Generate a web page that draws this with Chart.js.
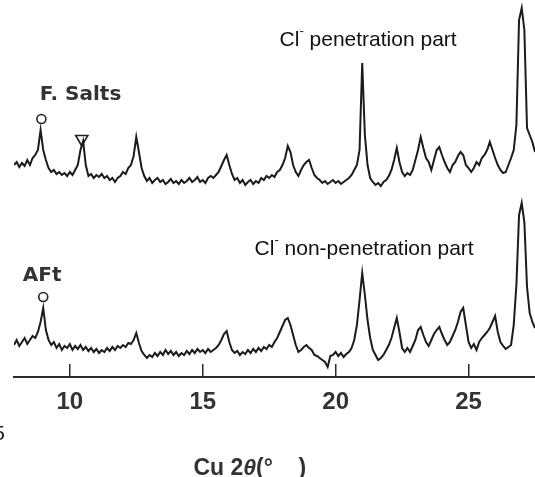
<!DOCTYPE html>
<html>
<head>
<meta charset="utf-8">
<script src="https://cdn.jsdelivr.net/npm/chart.js@4/dist/chart.umd.min.js"></script>
<style>
  html, body { margin: 0; padding: 0; background: #fff; overflow: hidden; }
  canvas { display: block; }
</style>
</head>
<body>
<canvas id="xrd" width="535" height="477"></canvas>
<script>
// Scan range: Cu 2θ in degrees, 0.1° step
const thetaStart = 7.9;
const thetaStep = 0.1;

// Intensity (a.u.) — Cl- penetration part
const penetration = [
  52,55,50,54,51,57,52,59,62,67,
  87,67,57,49,45,47,43,45,42,44,
  41,45,42,47,52,67,76,52,41,43,
  39,42,40,43,39,41,37,39,35,39,
  41,45,43,49,52,61,80,65,49,41,
  36,39,34,37,39,35,37,33,35,38,
  34,36,33,37,34,36,39,35,37,40,
  35,37,34,39,41,39,42,45,51,57,
  62,52,43,37,39,34,37,32,35,37,
  33,36,34,39,37,41,39,42,40,45,
  47,52,59,71,65,52,45,41,47,52,
  55,57,49,42,39,37,34,36,33,35,
  37,34,36,33,35,37,39,42,47,52,
  67,154,82,52,39,35,32,34,31,35,
  37,41,47,57,69,55,45,41,44,42,
  47,57,67,80,69,59,55,47,57,67,
  70,62,55,49,45,52,55,61,65,62,
  52,49,45,49,55,52,59,62,67,75,
  67,59,52,47,44,45,52,59,67,92,
  197,209,187,89,82,75,65
];

// Intensity (a.u.) — Cl- non-penetration part
const nonPenetration = [
  32,37,31,35,39,33,37,41,39,45,
  55,69,47,37,32,35,29,33,27,31,
  29,33,27,31,28,32,27,30,26,29,
  25,28,24,27,25,29,26,30,27,31,
  29,32,30,34,33,37,44,34,26,22,
  19,22,20,24,21,25,22,27,23,26,
  22,25,21,24,22,26,23,27,24,28,
  25,27,24,28,25,27,29,32,37,43,
  46,35,27,24,26,22,25,23,27,24,
  28,25,29,26,30,28,32,30,35,39,
  45,51,57,59,52,42,32,25,27,30,
  32,29,27,22,21,19,17,15,10,21,
  22,25,21,24,20,23,25,29,37,52,
  77,104,82,57,39,27,22,17,19,22,
  27,32,39,49,59,45,29,25,29,25,
  31,37,47,50,42,35,31,37,43,47,
  50,43,37,32,35,41,47,55,65,69,
  52,35,29,33,27,35,39,42,45,49,
  55,61,45,35,31,28,30,32,52,92,
  162,174,155,90,64,55,49
];

// Upper pattern is shifted up by this much so the two scans stack
const stackOffset = 160;

// Axis ticks (2θ, degrees)
const tickValues = [10, 15, 20, 25];

// Phase marks above peaks: ○ AFt, ▽ Friedel's salt
const phaseMarks = [
  { theta: 8.93, scan: 'penetration', symbol: 'circle' },
  { theta: 10.45, scan: 'penetration', symbol: 'triangle' },
  { theta: 9.0, scan: 'nonPenetration', symbol: 'circle' }
];

// ---------------------------------------------------------------
const twoTheta = penetration.map((_, i) => +(thetaStart + i * thetaStep).toFixed(2));
const scans = { penetration, nonPenetration };
const shift = { penetration: stackOffset, nonPenetration: 0 };
const markGap = 11;

const toPoints = (vals, off) => vals.map((v, i) => ({ x: twoTheta[i], y: v + off }));

const markPoints = phaseMarks.map(m => {
  const idx = Math.round((m.theta - thetaStart) / thetaStep);
  return { x: m.theta, y: scans[m.scan][idx] + shift[m.scan] + markGap };
});

const labelFont = '"DejaVu Sans", sans-serif';
const plainFont = '"Liberation Sans", Arial, sans-serif';

// Text annotations, anchored in data space (2θ, stacked intensity)
const annotations = [
  { kind: 'plain', text: 'F. Salts', theta: 8.87, y: 277, font: `bold 20px ${labelFont}`, color: '#333' },
  { kind: 'plain', text: 'AFt', theta: 8.23, y: 96, font: `bold 20px ${labelFont}`, color: '#333' },
  { kind: 'ion', text: ' penetration part', theta: 17.89, y: 331 },
  { kind: 'ion', text: ' non-penetration part', theta: 16.95, y: 122 },
  { kind: 'plain', text: '5', theta: 7.12, y: -63, font: `21px ${plainFont}`, color: '#222' }
];

const annotationPlugin = {
  id: 'xrdText',
  afterDraw(chart) {
    const { ctx, scales: { x, y } } = chart;
    ctx.save();
    ctx.textBaseline = 'alphabetic';
    ctx.textAlign = 'left';
    for (const a of annotations) {
      const px = x.getPixelForValue(a.theta);
      const py = y.getPixelForValue(a.y);
      if (a.kind === 'plain') {
        ctx.font = a.font;
        ctx.fillStyle = a.color;
        ctx.fillText(a.text, px, py);
      } else {
        // "Cl" with superscript minus, then the description
        ctx.fillStyle = '#111';
        ctx.font = `21px ${plainFont}`;
        ctx.fillText('Cl', px, py);
        let cx = px + ctx.measureText('Cl').width;
        ctx.font = `13px ${plainFont}`;
        ctx.fillText('-', cx, py - 11);
        cx += ctx.measureText('-').width;
        ctx.font = `21px ${plainFont}`;
        ctx.fillText(a.text, cx, py);
      }
    }
    // Axis title: Cu 2θ(° ) with italic θ
    const parts = [
      { t: 'Cu 2', f: `bold 23px ${plainFont}` },
      { t: 'θ', f: `italic bold 23px ${plainFont}` },
      { t: '(°    )', f: `bold 23px ${plainFont}` }
    ];
    let w = 0;
    for (const p of parts) { ctx.font = p.f; p.w = ctx.measureText(p.t).width; w += p.w; }
    let tx = x.getPixelForValue(16.77) - w / 2;
    ctx.fillStyle = '#333';
    for (const p of parts) { ctx.font = p.f; ctx.fillText(p.t, tx, 475); tx += p.w; }
    ctx.restore();
  }
};

new Chart(document.getElementById('xrd'), {
  type: 'line',
  data: {
    datasets: [
      {
        label: 'Cl- penetration part',
        data: toPoints(penetration, stackOffset),
        borderColor: '#1b1b1b',
        borderWidth: 2,
        pointRadius: 0
      },
      {
        label: 'Cl- non-penetration part',
        data: toPoints(nonPenetration, 0),
        borderColor: '#1b1b1b',
        borderWidth: 2,
        pointRadius: 0
      },
      {
        label: 'phase marks',
        data: markPoints,
        showLine: false,
        pointStyle: phaseMarks.map(m => m.symbol),
        rotation: phaseMarks.map(m => (m.symbol === 'triangle' ? 180 : 0)),
        pointRadius: phaseMarks.map(m => (m.symbol === 'triangle' ? 7 : 4.5)),
        pointBorderColor: '#222',
        pointBackgroundColor: '#fff',
        pointBorderWidth: 1.6
      }
    ]
  },
  options: {
    responsive: false,
    animation: false,
    devicePixelRatio: 1,
    layout: { autoPadding: false, padding: { left: 14, right: 0, top: 0, bottom: 0 } },
    plugins: { legend: { display: false }, tooltip: { enabled: false } },
    elements: { line: { tension: 0 } },
    scales: {
      x: {
        type: 'linear',
        min: 7.9,
        max: 27.5,
        afterBuildTicks: s => { s.ticks = tickValues.map(v => ({ value: v })); },
        afterFit: s => { s.height = 100; s.paddingLeft = 0; s.paddingRight = 0; },
        border: { display: true, color: '#2b2b2b', width: 2 },
        grid: { display: true, drawOnChartArea: false, drawTicks: true, tickLength: -13, color: '#2b2b2b', lineWidth: 1.5 },
        ticks: {
          padding: 24,
          autoSkip: false,
          maxRotation: 0,
          color: '#333',
          font: { family: plainFont, size: 24, weight: 'bold' }
        }
      },
      y: { display: false, min: 0, max: 377 }
    }
  },
  plugins: [annotationPlugin]
});
</script>
</body>
</html>
